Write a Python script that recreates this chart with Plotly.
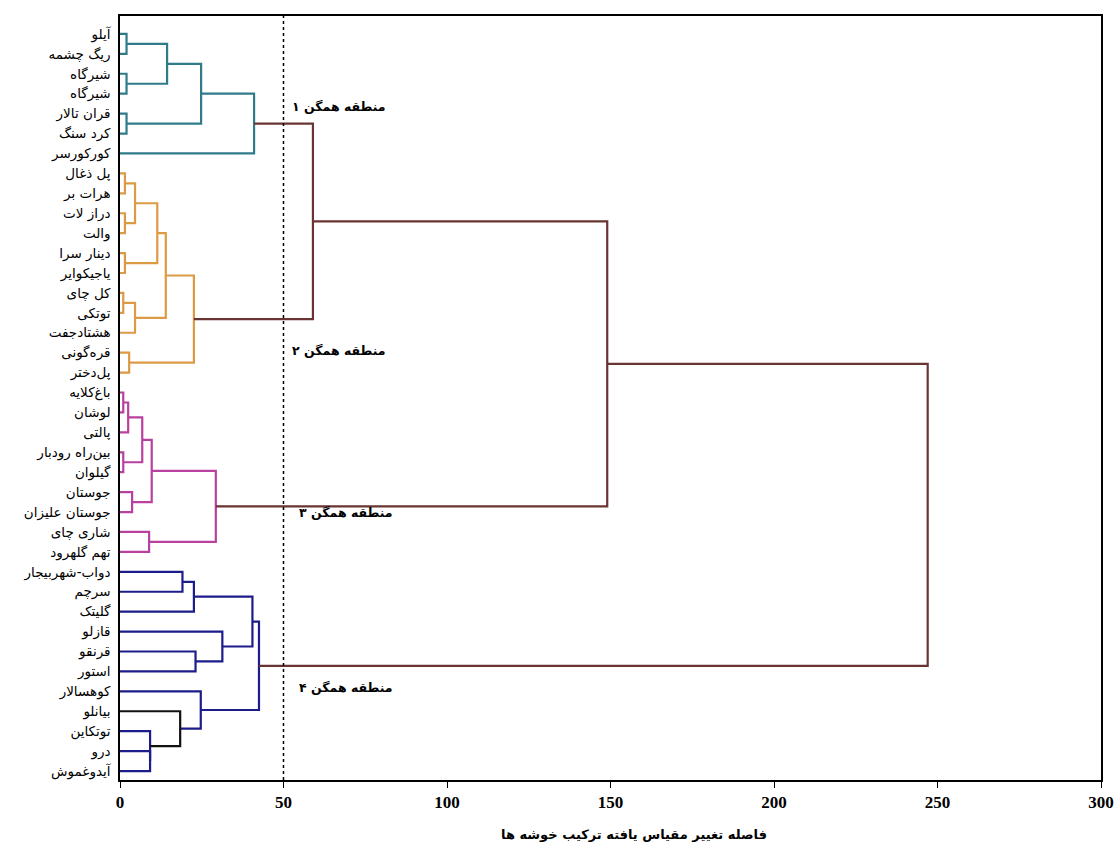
import plotly.graph_objects as go

# ---- data -------------------------------------------------------------
station_labels = [
    "آیلو", "ریگ چشمه", "شیرگاه", "شیرگاه", "قران تالار", "کرد سنگ", "کورکورسر",
    "پل ذغال", "هرات بر", "دراز لات", "والت", "دینار سرا", "یاجیکوایر", "کل چای",
    "توتکی", "هشتادجفت", "قره‌گونی", "پل‌دختر",
    "باغ‌کلایه", "لوشان", "پالتی", "بین‌راه رودبار", "گیلوان", "جوستان",
    "جوستان علیزان", "شاری چای", "تهم گلهرود",
    "دواب-شهربیجار", "سرچم", "گلیتک", "قازلو", "قرنقو", "استور", "کوهسالار",
    "بیانلو", "توتکاین", "درو", "آیدوغموش",
]

# linkage: ids < 38 are leaves, ids >= 38 refer to earlier merges (38 + index)
merge_left = [0, 2, 38, 4, 40, 42,
              7, 9, 44, 11, 46, 13, 49, 48, 16, 51,
              18, 54, 21, 55, 23, 57, 25, 59,
              27, 62, 31, 30, 63, 36, 35, 34, 33, 66,
              43, 72, 73]
merge_right = [1, 3, 39, 5, 41, 6,
               8, 10, 45, 12, 47, 14, 15, 50, 17, 52,
               19, 20, 22, 56, 24, 58, 26, 60,
               28, 29, 32, 64, 65, 37, 67, 68, 69, 70,
               53, 61, 71]
merge_height = [2.0, 2.0, 14.4, 2.0, 24.8, 41.0,
                1.5, 1.5, 4.6, 1.5, 11.4, 1.0, 4.6, 14.0, 2.8, 22.6,
                1.0, 2.5, 1.0, 6.8, 3.7, 9.7, 8.9, 29.3,
                19.1, 22.6, 23.1, 31.3, 40.5, 9.2, 9.2, 18.4, 24.7, 42.5,
                59.0, 149.0, 247.0]
merge_group = ["c1"] * 6 + ["c2"] * 10 + ["c3"] * 8 + \
              ["c4"] * 7 + ["k"] + ["c4"] * 2 + ["top"] * 3

region_labels = ["منطقه همگن ۱", "منطقه همگن ۲", "منطقه همگن ۳", "منطقه همگن ۴"]
region_x = [67, 67, 69, 69]
region_y = [3.65, 15.9, 24.0, 32.8]

cut_distance = 50
x_ticks = [0, 50, 100, 150, 200, 250, 300]

group_colors = {"c1": "#2F7B8A", "c2": "#DD9A45", "c3": "#B9409F",
                "c4": "#1C1C8A", "k": "#111111", "top": "#6A3434"}

# ---- build dendrogram geometry --------------------------------------
n_leaves = len(station_labels)
node_y = {i: float(i) for i in range(n_leaves)}
node_h = {i: 0.0 for i in range(n_leaves)}
paths = {g: ([], []) for g in group_colors}
for k, (a, b, h, g) in enumerate(zip(merge_left, merge_right, merge_height, merge_group)):
    nid = n_leaves + k
    xs, ys = paths[g]
    xs += [node_h[a], h, h, node_h[b], None]
    ys += [node_y[a], node_y[a], node_y[b], node_y[b], None]
    node_y[nid] = (node_y[a] + node_y[b]) / 2
    node_h[nid] = h

fig = go.Figure()
for g, (xs, ys) in paths.items():
    fig.add_trace(go.Scatter(x=xs, y=ys, mode="lines",
                             line=dict(color=group_colors[g], width=2.2),
                             hoverinfo="skip", showlegend=False))

fig.add_shape(type="line", xref="x", yref="paper", x0=cut_distance, x1=cut_distance,
              y0=0, y1=1, line=dict(color="black", width=1.5, dash="dot"))

for t, x, y in zip(region_labels, region_x, region_y):
    fig.add_annotation(x=x, y=y, text="<b>" + t + "</b>", showarrow=False,
                       font=dict(family="DejaVu Sans", size=12.5, color="black"))

fig.add_annotation(xref="paper", yref="paper", x=0.524, y=-0.071, yanchor="middle",
                   text="<b>فاصله تغییر مقیاس یافته ترکیب خوشه ها</b>", showarrow=False,
                   font=dict(family="DejaVu Sans", size=13, color="black"))

fig.update_layout(
    width=1117, height=862,
    margin=dict(l=120, r=16, t=16, b=82, autoexpand=False),
    plot_bgcolor="white", paper_bgcolor="white",
    showlegend=False,
)
fig.update_xaxes(range=[0, 300], tickvals=x_ticks, ticks="outside", ticklen=6,
                 tickcolor="black", showgrid=False, zeroline=False, automargin=False,
                 showline=True, mirror=True, linecolor="black", linewidth=1.5,
                 tickfont=dict(family="Liberation Serif", size=17, color="black",
                               weight="bold"))
fig.update_yaxes(range=[37.45, -0.9], tickvals=list(range(n_leaves)),
                 ticktext=station_labels, ticks="", showgrid=False, zeroline=False,
                 automargin=False, ticklabelstandoff=5,
                 showline=True, mirror=True, linecolor="black", linewidth=1.5,
                 tickfont=dict(family="DejaVu Sans", size=13.5, color="black"))

fig.write_html("out.html", config={"displayModeBar": False},
               post_script="document.body.style.margin='0';")
